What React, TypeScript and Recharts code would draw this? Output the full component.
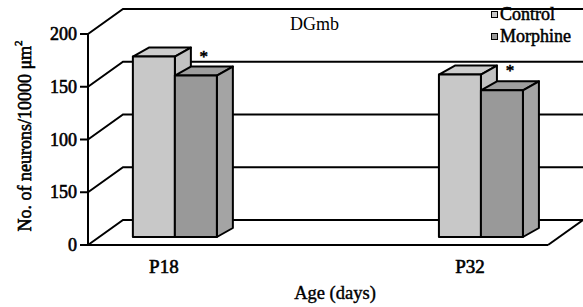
import React from "react";
import { BarChart, Bar, XAxis, YAxis, CartesianGrid, Legend, LabelList } from "recharts";

// values
const ages = ["P18", "P32"];
const agePositions = [1, 2];
const control = [171, 154];
const morphine = [153, 139];
const significance = ["*", "*"];
const yTicks = [0, 50, 100, 150, 200];
// the source figure labels the 50 tick as "150"
const yTickLabels = ["0", "150", "100", "150", "200"];

const data = ages.map((age, i) => ({
  age,
  pos: agePositions[i],
  control: control[i],
  morphine: morphine[i],
  sig: significance[i],
}));

const FONT = '"Liberation Serif", serif';
// the serif face has no bold here, so thicken it with a thin stroke
const heavy = { stroke: "#000", strokeWidth: 0.6, fill: "#000" };

// 3d look: depth of the walls, position of the bars inside the box, bar depth
const WALL_DX = 35;
const WALL_DY = -25;
const MID_DX = 11;
const MID_DY = -8;
const BAR_DX = 16;
const BAR_DY = -9;

const Box3D = (props: any) => {
  const { x, y, width, height, front, side, top } = props;
  if (x == null || y == null) return null;
  const X = x + MID_DX;
  const Y = y + MID_DY;
  const w = width;
  const h = height;
  return (
    <g stroke="#000" strokeWidth={2} strokeLinejoin="round">
      <polygon
        points={`${X},${Y} ${X + BAR_DX},${Y + BAR_DY} ${X + w + BAR_DX},${Y + BAR_DY} ${X + w},${Y}`}
        fill={top}
      />
      <polygon
        points={`${X + w},${Y} ${X + w + BAR_DX},${Y + BAR_DY} ${X + w + BAR_DX},${Y + h + BAR_DY} ${X + w},${Y + h}`}
        fill={side}
      />
      <rect x={X} y={Y} width={w} height={h} fill={front} />
    </g>
  );
};

const gridLine = (p: any) => {
  const { x1, y1, x2, index } = p;
  const by = y1 + WALL_DY;
  const isFloor =
    typeof p.y === "number" && typeof p.height === "number"
      ? Math.abs(y1 - (p.y + p.height)) < 0.5
      : index === 0;
  return (
    <g key={`grid-${index}`} stroke="#000" strokeWidth={2} fill="none">
      <polyline points={`${x1},${y1} ${x1 + WALL_DX},${by} ${x2 + WALL_DX},${by}`} />
      {isFloor && <line x1={x2} y1={y1} x2={x2 + WALL_DX} y2={by} />}
    </g>
  );
};

const YTick = ({ x, y, payload }: any) => (
  <text x={x} y={y + 6} textAnchor="end" fontFamily={FONT} fontSize={18} {...heavy}>
    {yTickLabels[yTicks.indexOf(payload.value)]}
  </text>
);

const XTick = ({ x, y, payload }: any) => (
  <text x={x} y={y + 28} textAnchor="middle" fontFamily={FONT} fontSize={19} {...heavy}>
    {ages[agePositions.indexOf(payload.value)]}
  </text>
);

const Star = (props: any) => {
  const { x, y, width, value } = props;
  if (!value) return null;
  const cx = x + MID_DX + width / 2 + BAR_DX / 2;
  const cy = y + MID_DY + BAR_DY - 5;
  return (
    <text x={cx} y={cy} textAnchor="middle" fontFamily={FONT} fontSize={17} {...heavy}>
      {value}
    </text>
  );
};

const renderLegend = ({ payload }: any) => (
  <div
    style={{
      fontFamily: FONT,
      fontSize: 18,
      lineHeight: "22px",
      color: "#000",
      WebkitTextStroke: "0.5px #000",
    }}
  >
    {(payload || []).map((e: any) => (
      <div key={e.value} style={{ display: "flex", alignItems: "center" }}>
        <span
          style={{
            display: "inline-block",
            width: 5,
            height: 5,
            border: "1.5px solid #000",
            background: e.color,
            marginRight: 2,
          }}
        />
        {e.value}
      </div>
    ))}
  </div>
);

export default function App() {
  return (
    <div style={{ position: "absolute", left: 0, top: 0, width: 583, height: 307, background: "#fff" }}>
      <BarChart
        width={583}
        height={307}
        data={data}
        margin={{ top: 34, right: 35, bottom: 22, left: 28 }}
        barGap={0}
      >
        <CartesianGrid vertical={false} horizontal={gridLine} />
        <XAxis
          type="number"
          dataKey="pos"
          domain={[0.752, 2.255]}
          ticks={agePositions}
          height={40}
          tickLine={false}
          tickSize={0}
          tickMargin={0}
          axisLine={{ stroke: "#000", strokeWidth: 2 }}
          tick={<XTick />}
          label={{
            content: ({ viewBox }: any) => (
              <text
                x={(viewBox?.x ?? 88) + (viewBox?.width ?? 460) / 2 + 17}
                y={299}
                textAnchor="middle"
                fontFamily={FONT}
                fontSize={18.5}
                {...heavy}
                strokeWidth={0.4}
              >
                Age (days)
              </text>
            ),
          }}
        />
        <YAxis
          width={60}
          domain={[0, 200]}
          ticks={yTicks}
          interval={0}
          tickSize={8}
          tickMargin={3}
          axisLine={{ stroke: "#000", strokeWidth: 2 }}
          tickLine={{ stroke: "#000", strokeWidth: 2 }}
          tick={<YTick />}
          label={{
            content: () => (
              <text
                x={25}
                y={136}
                transform="rotate(-90, 25, 136)"
                textAnchor="middle"
                dominantBaseline="central"
                fontFamily={FONT}
                fontSize={18}
                {...heavy}
              >
                No. of neurons/10000 μm
                <tspan fontSize={11} dy={-7}>2</tspan>
              </text>
            ),
          }}
        />
        <Legend
          layout="vertical"
          align="center"
          verticalAlign="middle"
          content={renderLegend}
          wrapperStyle={{ left: 491, top: 3, width: 95 }}
        />
        <Bar
          dataKey="control"
          name="Control"
          fill="#c8c8c8"
          barSize={42}
          isAnimationActive={false}
          shape={(p: any) => <Box3D {...p} front="#c8c8c8" side="#c2c2c2" top="#cdcdcd" />}
        />
        <Bar
          dataKey="morphine"
          name="Morphine"
          fill="#999999"
          barSize={42}
          isAnimationActive={false}
          shape={(p: any) => <Box3D {...p} front="#999999" side="#a4a4a4" top="#9e9e9e" />}
        >
          <LabelList dataKey="sig" content={<Star />} />
        </Bar>
      </BarChart>
      <div
        style={{
          position: "absolute",
          left: 290,
          top: 13,
          fontFamily: FONT,
          fontSize: 18,
          lineHeight: "22px",
          color: "#000",
        }}
      >
        DGmb
      </div>
    </div>
  );
}
